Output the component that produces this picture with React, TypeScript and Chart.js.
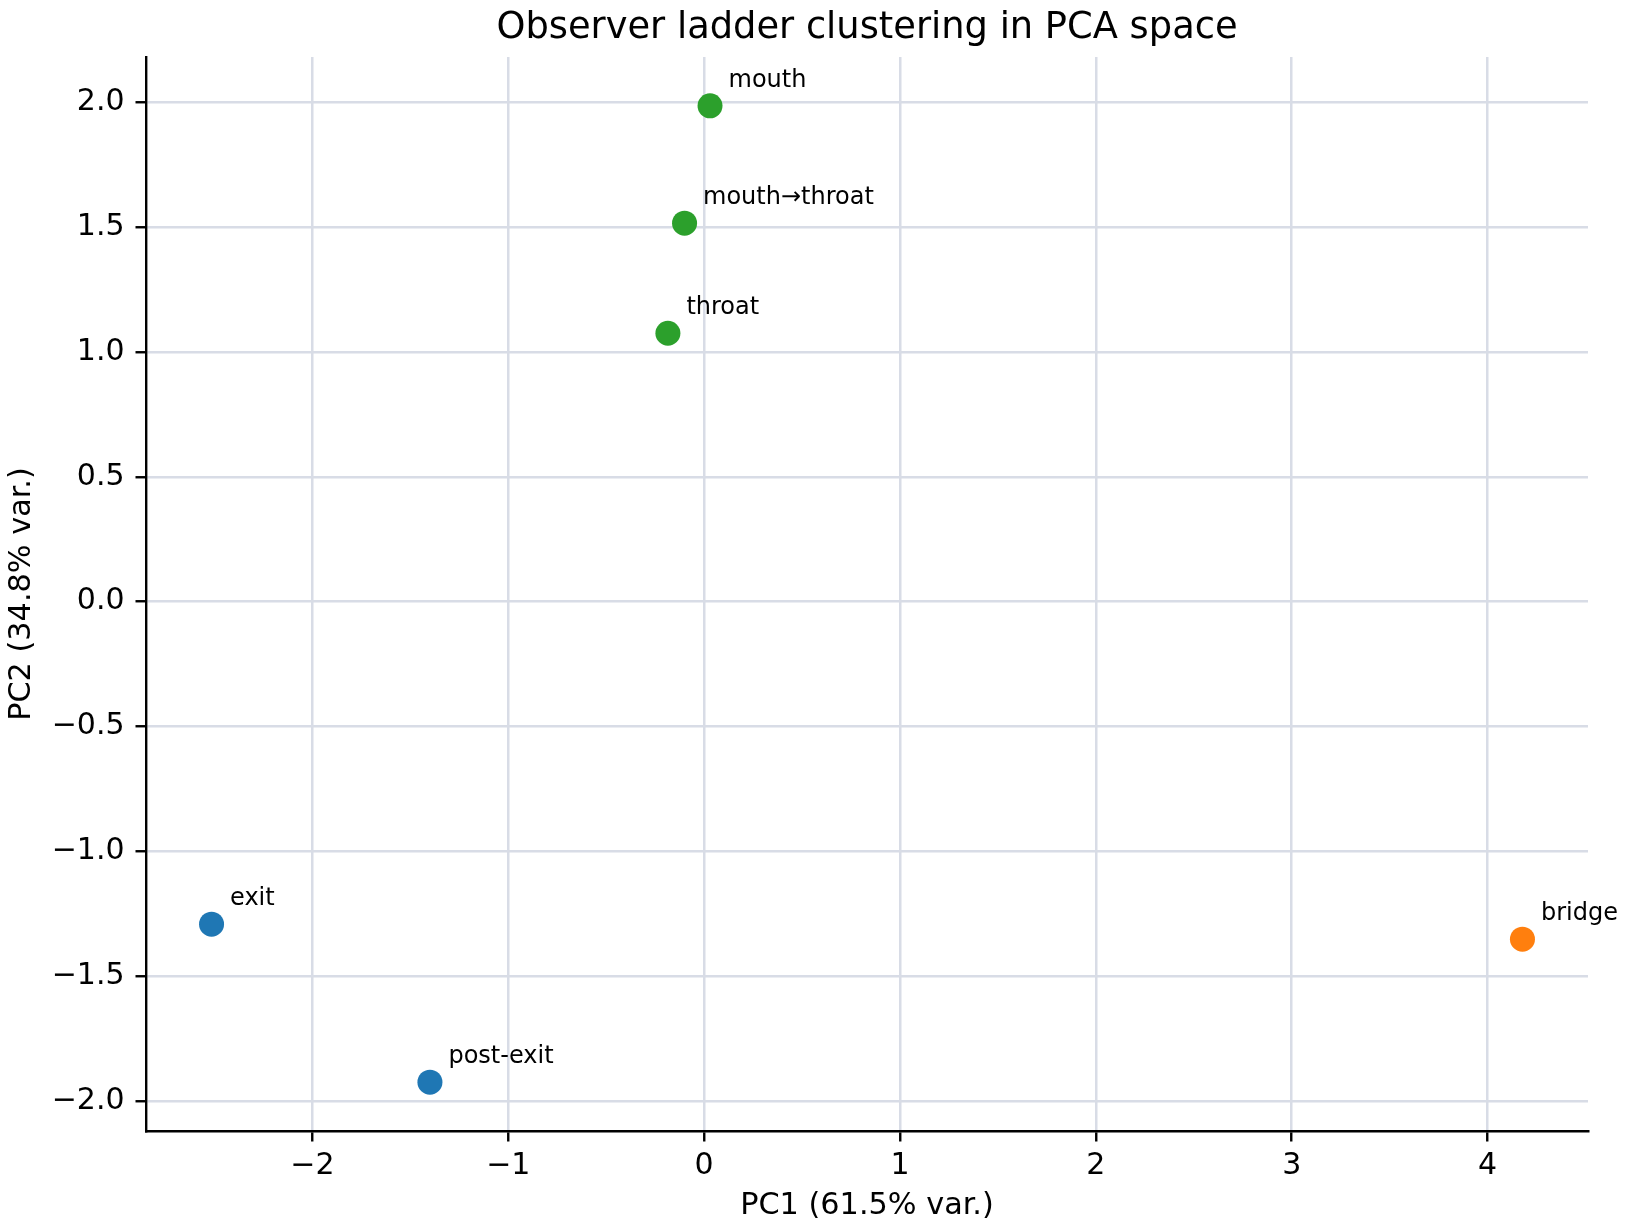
import { useEffect, useRef } from "react"
import { Chart, registerables } from "chart.js"

Chart.register(...registerables)

// data
const labels = ["mouth", "mouth→throat", "throat", "exit", "post-exit", "bridge"]
const pc1 = [0.03, -0.1, -0.185, -2.515, -1.4, 4.178]
const pc2 = [1.986, 1.516, 1.075, -1.292, -1.925, -1.352]
const cluster = [2, 2, 2, 0, 0, 1]
const clusterColors = ["#1f77b4", "#ff7f0e", "#2ca02c"]
const xTicks = [-2, -1, 0, 1, 2, 3, 4]
const yTicks = [-2, -1.5, -1, -0.5, 0, 0.5, 1, 1.5, 2]

const FONT = "DejaVu Sans"
const GRID = "#d8dce6"

function padRange(vals: number[]) {
    const lo = Math.min(...vals)
    const hi = Math.max(...vals)
    const m = (hi - lo) * 0.05
    return { min: lo - m, max: hi + m }
}

const minus = (s: string) => s.replace("-", "\u2212")

const pointLabels = {
    id: "pointLabels",
    afterDatasetsDraw(chart: any) {
        const ctx = chart.ctx
        const meta = chart.getDatasetMeta(0)
        ctx.save()
        ctx.font = `24px "${FONT}"`
        ctx.fillStyle = "#000"
        ctx.textBaseline = "alphabetic"
        ctx.textAlign = "left"
        meta.data.forEach((el: any, i: number) => {
            ctx.fillText(labels[i], el.x + 18.5, el.y - 19)
        })
        ctx.restore()
    },
}

export default function App() {
    const canvasRef = useRef<HTMLCanvasElement>(null)

    useEffect(() => {
        document.body.style.margin = "0"
        const el = canvasRef.current
        if (el == null) return
        const xr = padRange(pc1)
        const yr = padRange(pc2)
        const tickFont = { family: FONT, size: 30, lineHeight: 1 }
        const chart = new Chart(el, {
            type: "scatter",
            data: {
                datasets: [{
                    label: "clusters",
                    data: pc1.map((x, i) => ({ x, y: pc2[i] })),
                    pointRadius: 12.5,
                    pointHoverRadius: 12.5,
                    pointBorderWidth: 0,
                    pointBackgroundColor: cluster.map(c => clusterColors[c]),
                    pointBorderColor: cluster.map(c => clusterColors[c]),
                }],
            },
            options: {
                animation: false,
                responsive: false,
                devicePixelRatio: 1,
                layout: { padding: { left: 0, right: 40, top: 0, bottom: 0 } },
                plugins: {
                    legend: { display: false },
                    tooltip: { enabled: false },
                    title: {
                        display: true,
                        fullSize: false,
                        text: "Observer ladder clustering in PCA space",
                        color: "#000",
                        font: { family: FONT, size: 36.8, weight: "normal", lineHeight: 1 },
                        padding: { top: 10, bottom: 10.2 },
                    },
                },
                scales: {
                    x: {
                        type: "linear",
                        position: "bottom",
                        min: xr.min,
                        max: xr.max,
                        afterBuildTicks: (s: any) => { s.ticks = xTicks.map(value => ({ value })) },
                        afterFit: (s: any) => { s.height = 101 },
                        ticks: {
                            color: "#000",
                            font: tickFont,
                            padding: 10,
                            maxRotation: 0,
                            callback: (v: any) => minus(String(v)),
                        },
                        grid: {
                            color: GRID,
                            lineWidth: 2.5,
                            tickColor: "#000",
                            tickWidth: 2.4,
                            tickLength: 10.5,
                        },
                        border: { color: "#000", width: 2.4 },
                        title: {
                            display: true,
                            text: "PC1 (61.5% var.)",
                            color: "#000",
                            font: { family: FONT, size: 30.3, lineHeight: 1 },
                            padding: { top: 0, bottom: 11 },
                        },
                    },
                    y: {
                        type: "linear",
                        position: "left",
                        min: yr.min,
                        max: yr.max,
                        afterBuildTicks: (s: any) => { s.ticks = yTicks.map(value => ({ value })) },
                        afterFit: (s: any) => { s.width = 146 },
                        ticks: {
                            color: "#000",
                            font: tickFont,
                            padding: 11,
                            callback: (v: any) => minus(Number(v).toFixed(1)),
                        },
                        grid: {
                            color: GRID,
                            lineWidth: 2.5,
                            tickColor: "#000",
                            tickWidth: 2.4,
                            tickLength: 10.5,
                        },
                        border: { color: "#000", width: 2.4 },
                        title: {
                            display: true,
                            text: "PC2 (34.8% var.)",
                            color: "#000",
                            font: { family: FONT, size: 30.3, lineHeight: 1 },
                            padding: { top: 7, bottom: 0 },
                        },
                    },
                },
            },
            plugins: [pointLabels],
        })
        return () => chart.destroy()
    }, [])

    return (
        <div style={{ width: 1628, height: 1232, background: "#fff" }}>
            <canvas ref={canvasRef} width={1628} height={1232} />
        </div>
    )
}
